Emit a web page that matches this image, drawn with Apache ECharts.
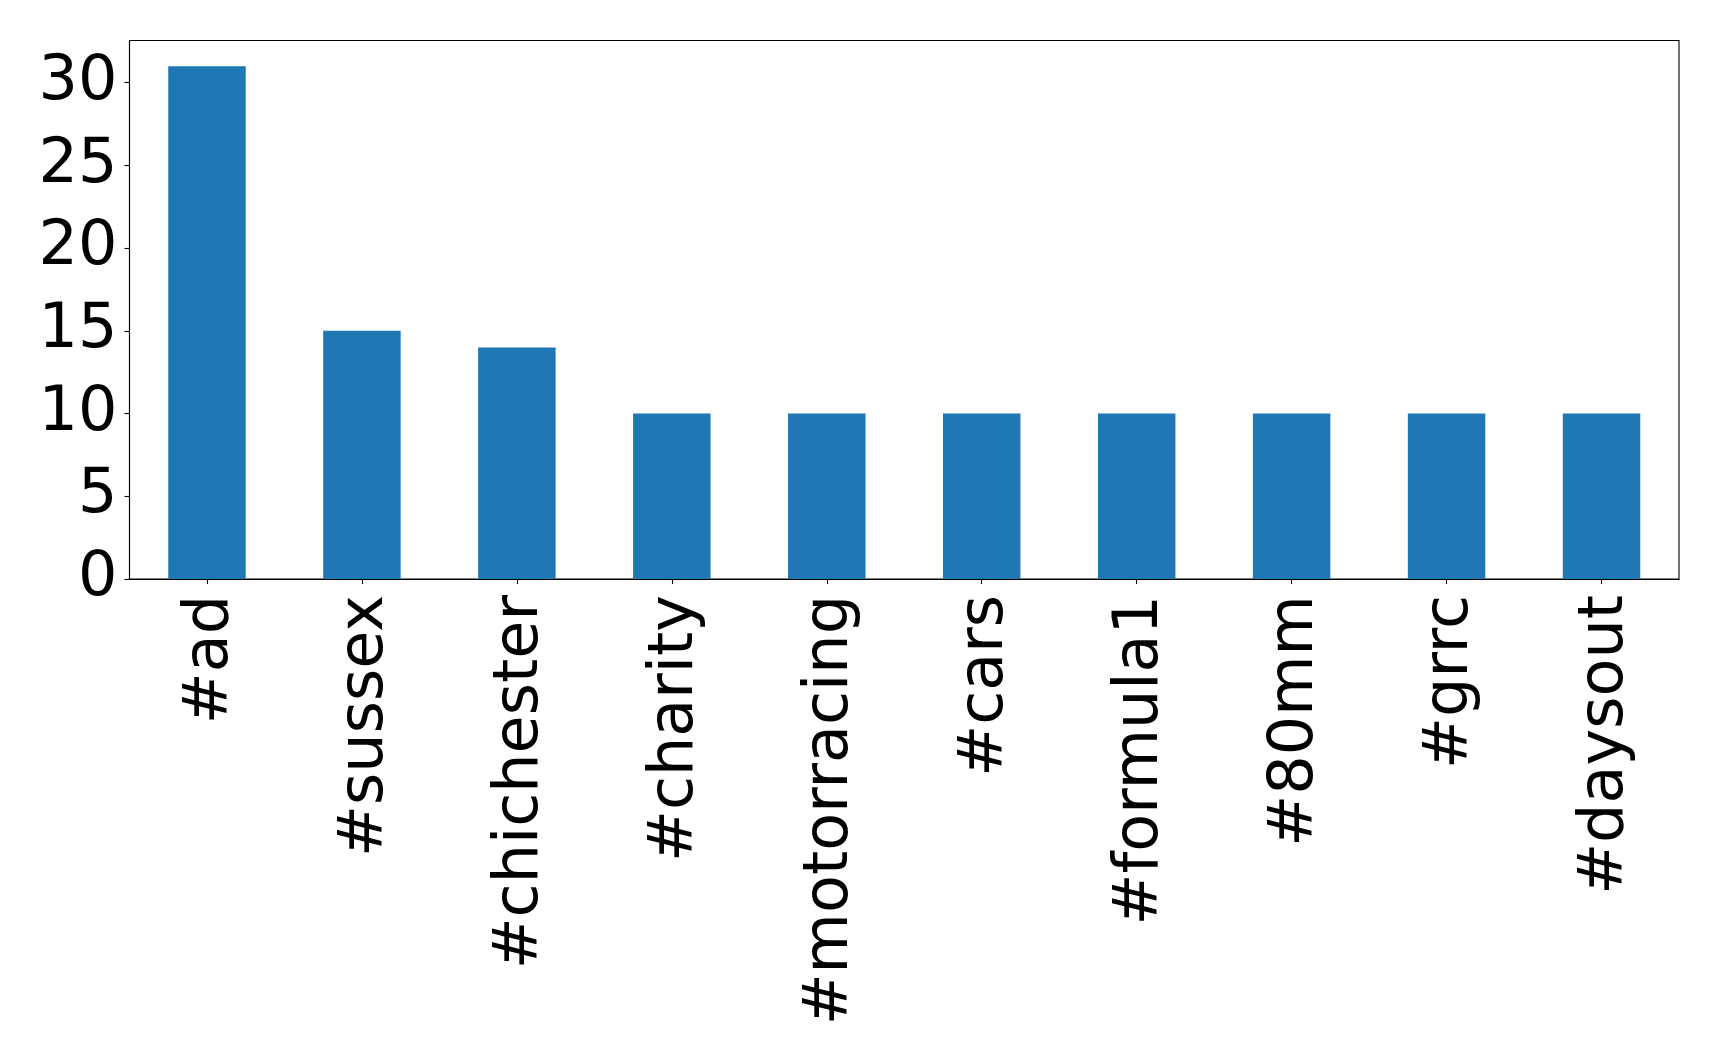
<!DOCTYPE html>
<html>
<head>
<meta charset="utf-8">
<script src="https://cdn.jsdelivr.net/npm/echarts@6/dist/echarts.min.js"></script>
<style>
  html, body { margin: 0; padding: 0; background: #fff; }
  #chart { width: 1719px; height: 1062px; }
</style>
</head>
<body>
<div id="chart"></div>
<script>
const tags = ['#ad', '#sussex', '#chichester', '#charity', '#motorracing', '#cars', '#formula1', '#80mm', '#grrc', '#daysout'];
const counts = [31, 15, 14, 10, 10, 10, 10, 10, 10, 10];
const yTicks = [0, 5, 10, 15, 20, 25, 30];

const FONT = 'DejaVu Sans';
const chart = echarts.init(document.getElementById('chart'));

chart.setOption({
    animation: false,
    backgroundColor: '#ffffff',
    grid: {
        left: 129.5,
        right: 40,
        top: 40.5,
        bottom: 483,
        show: true,
        borderColor: '#000',
        borderWidth: 1.1,
        containLabel: false
    },
    xAxis: {
        type: 'category',
        data: tags,
        boundaryGap: true,
        axisLine: { show: true, lineStyle: { color: '#000', width: 1.1 } },
        axisTick: { show: true, alignWithLabel: true, length: 5, lineStyle: { color: '#000', width: 1.1 } },
        axisLabel: {
            rotate: 90,
            interval: 0,
            margin: 16,
            // rotated text: nudge a few px to the right to sit like matplotlib
            verticalAlign: 'top',
            lineHeight: 8,
            color: '#000',
            fontFamily: FONT,
            fontSize: 62
        },
        splitLine: { show: false }
    },
    yAxis: {
        type: 'value',
        min: 0,
        max: 32.55,
        axisLine: { show: true, lineStyle: { color: '#000', width: 1.1 } },
        axisTick: { show: true, length: 5, customValues: yTicks, lineStyle: { color: '#000', width: 1.1 } },
        axisLabel: {
            customValues: yTicks,
            margin: 12,
            color: '#000',
            fontFamily: FONT,
            fontSize: 62
        },
        splitLine: { show: false }
    },
    series: [{
        type: 'bar',
        data: counts,
        barWidth: '50%',
        itemStyle: { color: '#1f77b4' }
    }]
});
</script>
</body>
</html>
